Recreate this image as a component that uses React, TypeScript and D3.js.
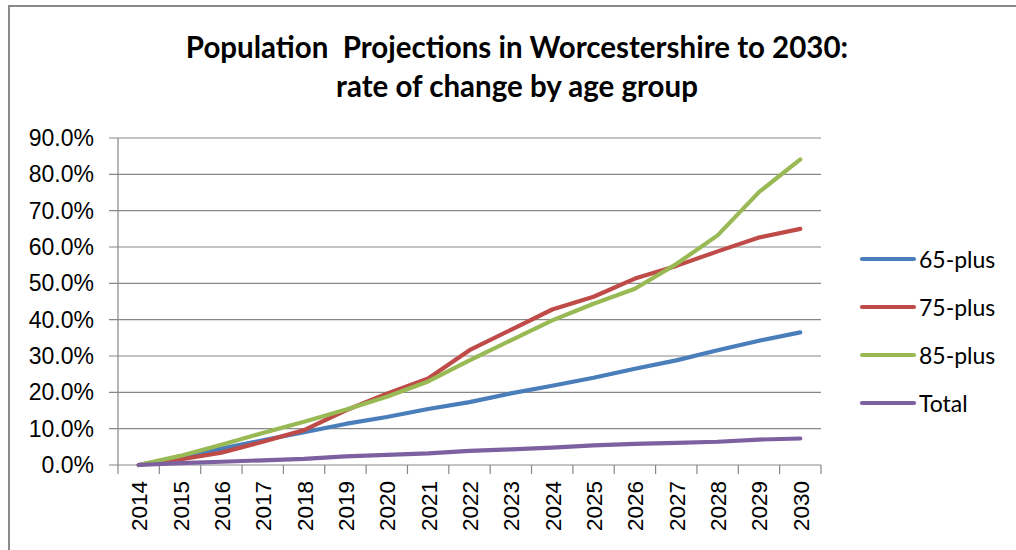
import React from 'react';
import { scaleBand, scaleLinear, line, range } from 'd3';

const years = range(2014, 2031).map(String);
const seriesNames = ['65-plus', '75-plus', '85-plus', 'Total'];
const colours = ['#4A7EBB', '#BE4B48', '#98B954', '#7D60A0'];

const plus65 = [0, 2.2, 4.5, 6.8, 9.0, 11.3, 13.2, 15.4, 17.3, 19.7, 21.8, 24.0, 26.5, 28.8, 31.6, 34.2, 36.5];
const plus75 = [0, 1.5, 3.4, 6.4, 9.6, 15.0, 19.6, 23.8, 31.6, 37.2, 42.8, 46.3, 51.3, 54.8, 58.8, 62.6, 65.0];
const plus85 = [0, 2.5, 5.6, 8.8, 11.9, 15.2, 18.8, 23.0, 28.8, 34.3, 39.8, 44.4, 48.5, 55.3, 63.2, 75.1, 84.1];
const total = [0, 0.5, 0.9, 1.3, 1.7, 2.4, 2.8, 3.2, 3.9, 4.3, 4.8, 5.4, 5.8, 6.1, 6.4, 7.0, 7.3];

const yTicks = [0, 10, 20, 30, 40, 50, 60, 70, 80, 90];

const width = 1016;
const height = 550;
const left = 118;
const right = 821;
const top = 138;
const bottom = 465;

const App = () => {
  const series = [plus65, plus75, plus85, total];

  const x = scaleBand().domain(years).range([left, right]).padding(0);
  const y = scaleLinear().domain([0, 90]).range([bottom, top]);

  const path = line<number>()
    .x((_, i) => x(years[i])! + x.bandwidth() / 2)
    .y(d => y(d));

  const axisFont = '"Liberation Sans", Arial, sans-serif';
  const textFont = 'Lato, "Open Sans", sans-serif';

  return (
    <svg width={width} height={height} style={{ position: 'absolute', left: 0, top: 0 }}>
      <rect x={0} y={0} width={width} height={height} fill="#fff" />
      <rect x={9} y={6} width={1100} height={700} fill="none" stroke="#8a8a8a" strokeWidth={2} />

      <text x={517} y={58} textAnchor="middle" fontFamily={textFont} fontWeight="bold" fontSize={29.5} fill="#000" style={{ whiteSpace: 'pre' }}>
        {'Population  Projections in Worcestershire to 2030:'}
      </text>
      <text x={517} y={97} textAnchor="middle" fontFamily={textFont} fontWeight="bold" fontSize={29.5} fill="#000">
        rate of change by age group
      </text>

      {/* gridlines + y labels */}
      {yTicks.map(t => (
        <g key={t}>
          <line x1={left - 9} x2={right} y1={y(t)} y2={y(t)} stroke="#878787" strokeWidth={1.2} />
          <text x={94} y={y(t)} textAnchor="end" dominantBaseline="central" fontFamily={axisFont} fontSize={23} fill="#000">
            {t.toFixed(1)}%
          </text>
        </g>
      ))}

      {/* axes */}
      <line x1={left} x2={left} y1={top} y2={bottom} stroke="#878787" strokeWidth={1.2} />
      {years.map(yr => (
        <line key={yr} x1={x(yr)!} x2={x(yr)!} y1={bottom} y2={bottom + 9} stroke="#878787" strokeWidth={1.2} />
      ))}
      <line x1={right} x2={right} y1={bottom} y2={bottom + 9} stroke="#878787" strokeWidth={1.2} />
      {years.map(yr => (
        <text
          key={yr}
          transform={`translate(${x(yr)! + x.bandwidth() / 2 + 1},481) rotate(-90)`}
          textAnchor="end"
          dominantBaseline="central"
          fontFamily={axisFont}
          fontSize={22.5}
          fill="#000"
        >
          {yr}
        </text>
      ))}

      {series.map((s, i) => (
        <path
          key={seriesNames[i]}
          d={path(s)!}
          fill="none"
          stroke={colours[i]}
          strokeWidth={4.2}
          strokeLinejoin="round"
          strokeLinecap="round"
        />
      ))}

      {seriesNames.map((n, i) => (
        <g key={n} transform={`translate(0,${259 + i * 48})`}>
          <line x1={862} x2={914} y1={0} y2={0} stroke={colours[i]} strokeWidth={4.2} strokeLinecap="round" />
          <text x={919} y={0} dominantBaseline="central" fontFamily={textFont} fontSize={23} fill="#000">
            {n}
          </text>
        </g>
      ))}
    </svg>
  );
};

export default App;
